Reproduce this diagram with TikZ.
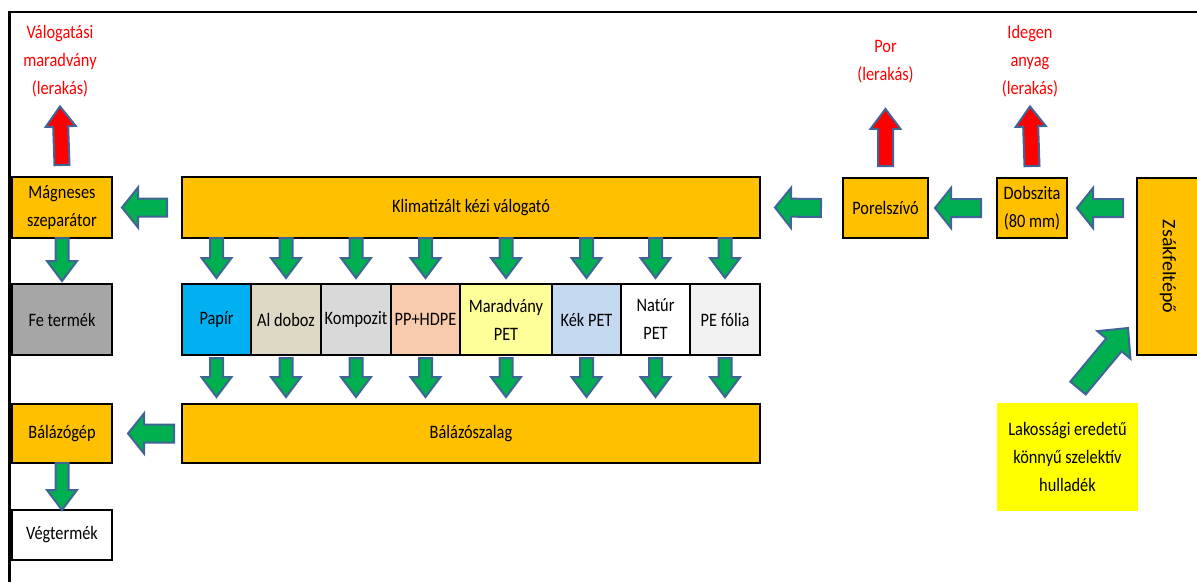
\documentclass[tikz,border=0pt]{standalone}
\usepackage{fontspec}
\setmainfont[FakeStretch=0.86]{Carlito}
\newfontfamily\rotfont[FakeStretch=1.05]{Carlito}
\usetikzlibrary{calc}
\definecolor{boxorange}{RGB}{255,192,0}
\definecolor{fegray}{RGB}{166,166,166}
\definecolor{papirblue}{RGB}{0,176,240}
\definecolor{altan}{RGB}{221,217,196}
\definecolor{kompgray}{RGB}{217,217,217}
\definecolor{ppsalmon}{RGB}{248,203,173}
\definecolor{petyellow}{RGB}{255,255,153}
\definecolor{kekblue}{RGB}{197,217,241}
\definecolor{foliagray}{RGB}{242,242,242}
\definecolor{lakosyellow}{RGB}{255,255,0}
\definecolor{arrowgreen}{RGB}{0,176,80}
\definecolor{arrowedge}{RGB}{65,100,150}
\tikzset{
  blk/.style n args={3}{draw=arrowedge, line width=2pt, line join=miter,
    to path={
      ($(\tikztostart)!#1!90:(\tikztotarget)$)
      -- ($(\tikztotarget)!#3!(\tikztostart)!#1!-90:(\tikztostart)$)
      -- ($(\tikztotarget)!#3!(\tikztostart)!#2!-90:(\tikztostart)$)
      -- (\tikztotarget)
      -- ($(\tikztotarget)!#3!(\tikztostart)!#2!90:(\tikztostart)$)
      -- ($(\tikztotarget)!#3!(\tikztostart)!#1!90:(\tikztostart)$)
      -- ($(\tikztostart)!#1!-90:(\tikztotarget)$)
      -- cycle}},
  downarrow/.style={blk={6.5pt}{15pt}{20pt}, fill=arrowgreen},
  sidearrow/.style={blk={9pt}{20pt}{16pt}, fill=arrowgreen},
  diagarrow/.style={blk={10pt}{21.5pt}{22pt}, fill=arrowgreen},
  redarrow/.style={blk={7.5pt}{15pt}{20pt}, fill=red}
}

\begin{document}
\begin{tikzpicture}[x=1pt, y=1pt, font=\fontsize{19}{28}\selectfont,
  box/.style={draw, line width=2.2pt, fill=boxorange, align=center, inner sep=0pt, outer sep=0pt},
  cat/.style={box, minimum height=71},
  redtxt/.style={text=red, align=center}]
\useasboundingbox (0,0) rectangle (1197,-582);
% frame
\draw[line width=2.5pt] (9.5,-582) -- (9.5,-12) -- (1197,-12);

% main line
\node (magn) at (62,-207.5) [box, minimum width=100, minimum height=61] {Mágneses\\szeparátor};
\node (klima) at (471,-207.5) [box, minimum width=578, minimum height=61] {Klimatizált kézi válogató};
\node (porel) at (885.5,-208) [box, minimum width=85, minimum height=60] {Porelszívó};
\node (dobsz) at (1032,-208) [box, minimum width=70, minimum height=60] {Dobszita\\(80 mm)};
\node (zsak) at (1168,-266.5) [box, rotate=-90, minimum width=177, minimum height=62] {\rotfont Zsákfeltépő};
\node (lakos) at (1067.5,-457) [box, draw=none, fill=lakosyellow, minimum width=141, minimum height=108] {Lakossági eredetű\\könnyű szelektív\\hulladék};

% red outputs
\node (valm) at (60,-61) [redtxt] {Válogatási\\maradvány\\(lerakás)};
\node (por) at (885.5,-62) [redtxt] {Por\\(lerakás)};
\node (ideg) at (1030,-61) [redtxt] {Idegen\\anyag\\(lerakás)};

% products
\node (fe) at (62,-319.5) [cat, fill=fegray, minimum width=100] {Fe termék};
\node (papir) at (216.5,-319.5) [cat, fill=papirblue, minimum width=69] {Papír};
\node (aldoboz) at (286,-319.5) [cat, fill=altan, minimum width=70] {Al doboz};
\node (kompozit) at (356,-319.5) [cat, fill=kompgray, minimum width=70] {Kompozit};
\node (pphdpe) at (425.5,-319.5) [cat, fill=ppsalmon, minimum width=69] {PP+HDPE};
\node (marpet) at (506,-319.5) [cat, fill=petyellow, minimum width=92] {Maradvány\\PET};
\node (kekpet) at (586.5,-319.5) [cat, fill=kekblue, minimum width=69] {Kék PET};
\node (naturpet) at (655.5,-319.5) [cat, fill=white, minimum width=69] {Natúr\\PET};
\node (pefolia) at (725,-319.5) [cat, fill=foliagray, minimum width=70] {PE fólia};

% baling
\node (balg) at (62,-433.5) [box, minimum width=100, minimum height=59] {Bálázógép};
\node (balsz) at (471,-433.5) [box, minimum width=578, minimum height=59] {Bálázószalag};
\node (veg) at (62,-535) [box, fill=white, minimum width=100, minimum height=50] {Végtermék};

% flow arrows (zsak is turned, its south side faces left)
\draw[diagarrow] ([shift={(10.5,15)}]lakos.north) to ([shift={(-9,27)}]zsak.south east);
\draw[sidearrow] ([xshift=-14]zsak.south |- dobsz) to ([xshift=10]dobsz.east);
\draw[sidearrow] ([xshift=-16]dobsz.west) to ([xshift=7]porel.east);
\draw[sidearrow] ([xshift=-22]porel.west) to ([xshift=15]klima.east);
\draw[sidearrow] ([xshift=-15]klima.west) to ([xshift=10]magn.east);
\draw[downarrow] (magn.south) to ([yshift=3]fe.north);
\draw[redarrow] ([yshift=12]magn.north) to ([yshift=-6]valm.south);
\draw[redarrow] ([yshift=12]porel.north) to ([yshift=-22]por.south);
\draw[redarrow] ([yshift=12]dobsz.north) to ([yshift=-6]ideg.south);

\draw[downarrow] (klima.south -| papir) to ([yshift=6]papir.north);
\draw[downarrow] (klima.south -| aldoboz) to ([yshift=6]aldoboz.north);
\draw[downarrow] (klima.south -| kompozit) to ([yshift=6]kompozit.north);
\draw[downarrow] (klima.south -| pphdpe) to ([yshift=6]pphdpe.north);
\draw[downarrow] (klima.south -| marpet) to ([yshift=6]marpet.north);
\draw[downarrow] (klima.south -| kekpet) to ([yshift=6]kekpet.north);
\draw[downarrow] (klima.south -| naturpet) to ([yshift=6]naturpet.north);
\draw[downarrow] (klima.south -| pefolia) to ([yshift=6]pefolia.north);

\draw[downarrow] ([yshift=-3]papir.south) to ([yshift=7]balsz.north -| papir);
\draw[downarrow] ([yshift=-3]aldoboz.south) to ([yshift=7]balsz.north -| aldoboz);
\draw[downarrow] ([yshift=-3]kompozit.south) to ([yshift=7]balsz.north -| kompozit);
\draw[downarrow] ([yshift=-3]pphdpe.south) to ([yshift=7]balsz.north -| pphdpe);
\draw[downarrow] ([yshift=-3]marpet.south) to ([yshift=7]balsz.north -| marpet);
\draw[downarrow] ([yshift=-3]kekpet.south) to ([yshift=7]balsz.north -| kekpet);
\draw[downarrow] ([yshift=-3]naturpet.south) to ([yshift=7]balsz.north -| naturpet);
\draw[downarrow] ([yshift=-3]pefolia.south) to ([yshift=7]balsz.north -| pefolia);

\draw[sidearrow] ([xshift=-8]balsz.west) to ([xshift=16]balg.east);
\draw[downarrow] (balg.south) to (veg.north);
\end{tikzpicture}
\end{document}
